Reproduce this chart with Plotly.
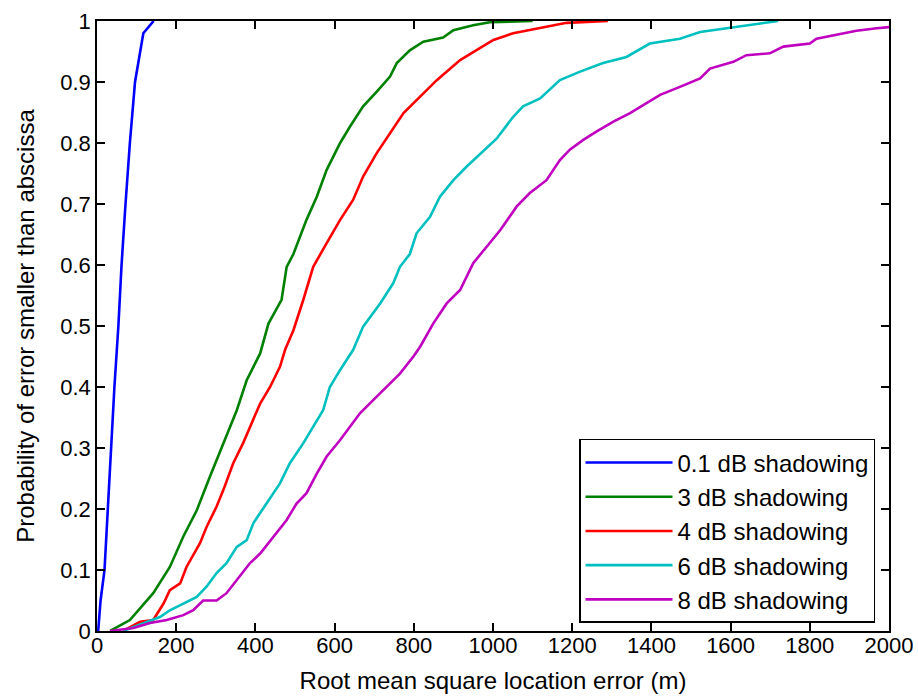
import plotly.graph_objects as go

# ---- data ----
names = ["0.1 dB shadowing", "3 dB shadowing", "4 dB shadowing",
         "6 dB shadowing", "8 dB shadowing"]
colors = ["#0000FF", "#008000", "#FF0000", "#00BFBF", "#BF00BF"]

x_01 = [3, 5, 9, 19, 27, 35, 44, 54, 62, 72, 83, 96, 109, 117, 143]
y_01 = [0, 0.02, 0.05, 0.1, 0.2, 0.3, 0.4, 0.5, 0.6, 0.7, 0.8, 0.9, 0.95, 0.98, 1.0]

x_3 = [33, 83, 142, 184, 218, 252, 285, 319, 353, 378, 412, 433, 466, 479, 496,
       529, 555, 580, 614, 639, 672, 706, 740, 757, 790, 824, 874, 900, 950, 992, 1100]
y_3 = [0, 0.018, 0.062, 0.105, 0.155, 0.198, 0.253, 0.308, 0.362, 0.411, 0.455,
       0.504, 0.543, 0.597, 0.618, 0.674, 0.712, 0.756, 0.80, 0.827, 0.86, 0.884,
       0.909, 0.931, 0.952, 0.966, 0.973, 0.985, 0.993, 0.998, 1.0]

x_4 = [66, 109, 142, 168, 184, 210, 226, 260, 277, 302, 319, 344, 369, 386, 412,
       437, 462, 475, 496, 521, 546, 580, 614, 647, 672, 706, 740, 774, 816, 858,
       917, 967, 1001, 1051, 1135, 1186, 1290]
y_4 = [0, 0.015, 0.018, 0.045, 0.067, 0.078, 0.105, 0.144, 0.171, 0.204, 0.231,
       0.275, 0.308, 0.335, 0.373, 0.40, 0.433, 0.461, 0.493, 0.543, 0.597, 0.636,
       0.674, 0.707, 0.745, 0.783, 0.816, 0.849, 0.876, 0.903, 0.936, 0.955, 0.969,
       0.98, 0.991, 0.997, 1.0]

x_6 = [66, 117, 159, 184, 218, 252, 277, 302, 327, 353, 378, 395, 428, 462, 487,
       521, 546, 571, 588, 614, 647, 672, 715, 748, 765, 790, 807, 841, 866, 900,
       933, 967, 1009, 1051, 1076, 1119, 1169, 1220, 1278, 1337, 1396, 1472, 1523,
       1590, 1640, 1699, 1720]
y_6 = [0, 0.013, 0.023, 0.034, 0.045, 0.056, 0.073, 0.095, 0.111, 0.138, 0.149,
       0.177, 0.209, 0.242, 0.275, 0.308, 0.335, 0.362, 0.40, 0.428, 0.461, 0.499,
       0.537, 0.57, 0.597, 0.618, 0.652, 0.679, 0.712, 0.739, 0.761, 0.781, 0.807,
       0.843, 0.86, 0.873, 0.903, 0.917, 0.931, 0.941, 0.963, 0.971, 0.982, 0.988,
       0.993, 0.999, 1.0]

x_8 = [33, 92, 134, 176, 218, 243, 268, 302, 327, 353, 386, 412, 445, 479, 504,
       529, 555, 580, 614, 639, 664, 698, 731, 765, 799, 816, 849, 883, 917, 950,
       984, 1018, 1060, 1093, 1135, 1169, 1194, 1228, 1262, 1304, 1346, 1388, 1422,
       1472, 1523, 1548, 1607, 1640, 1699, 1733, 1800, 1817, 1884, 1918, 1969, 2000]
y_8 = [0, 0.005, 0.013, 0.018, 0.026, 0.034, 0.05, 0.05, 0.062, 0.084, 0.111,
       0.127, 0.155, 0.182, 0.209, 0.226, 0.258, 0.286, 0.313, 0.335, 0.357, 0.379,
       0.40, 0.422, 0.45, 0.466, 0.504, 0.537, 0.559, 0.603, 0.63, 0.657, 0.696,
       0.718, 0.739, 0.772, 0.789, 0.805, 0.819, 0.835, 0.849, 0.865, 0.879, 0.892,
       0.906, 0.922, 0.933, 0.944, 0.947, 0.958, 0.963, 0.971, 0.98, 0.984, 0.988,
       0.99]

x_ticks = [0, 200, 400, 600, 800, 1000, 1200, 1400, 1600, 1800, 2000]
x_tick_labels = ["0", "200", "400", "600", "800", "1000", "1200", "1400", "1600", "1800", "2000"]
y_ticks = [0, 0.1, 0.2, 0.3, 0.4, 0.5, 0.6, 0.7, 0.8, 0.9, 1]
y_tick_labels = ["0", "0.1", "0.2", "0.3", "0.4", "0.5", "0.6", "0.7", "0.8", "0.9", "1"]

xs = [x_01, x_3, x_4, x_6, x_8]
ys = [y_01, y_3, y_4, y_6, y_8]

FONT = "Liberation Sans, Arial, sans-serif"

fig = go.Figure()
for i, (n, c, xv, yv) in enumerate(zip(names, colors, xs, ys)):
    fig.add_trace(go.Scatter(x=xv, y=yv, mode="lines", name=n,
                             legendgroup=f"g{i}",
                             line=dict(color=c, width=2.6)))

axis_common = dict(showline=True, linecolor="black", linewidth=1.5, mirror="ticks",
                   ticks="inside", ticklen=8, tickcolor="black", tickwidth=1.5,
                   showgrid=False, zeroline=False, automargin=False,
                   tickfont=dict(family=FONT, size=22, color="black"))

fig.update_xaxes(range=[0, 2000], tickvals=x_ticks, ticktext=x_tick_labels,
                 ticklabelstandoff=-6,
                 title=dict(text="Root mean square location error (m)",
                            font=dict(family=FONT, size=24, color="black"),
                            standoff=15),
                 **axis_common)
fig.update_yaxes(range=[0, 1], tickvals=y_ticks, ticktext=y_tick_labels,
                 title=dict(text="Probability of error smaller than abscissa",
                            font=dict(family=FONT, size=24, color="black"),
                            standoff=19),
                 **axis_common)

fig.update_layout(
    width=918, height=697,
    margin=dict(l=97, r=29, t=21, b=66),
    paper_bgcolor="white", plot_bgcolor="white",
    showlegend=True,
    legend=dict(x=0.6086, y=0.3148, xanchor="left", yanchor="top",
                bgcolor="white", bordercolor="black", borderwidth=1.5,
                font=dict(family=FONT, size=24, color="black"),
                itemwidth=87, tracegroupgap=0),
)

fig.write_html("out.html",
               config={"displayModeBar": False},
               post_script="document.body.style.margin='0';"
                           "document.body.style.overflow='hidden';")
